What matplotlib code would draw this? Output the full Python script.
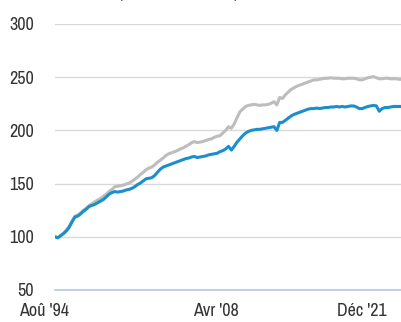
import matplotlib
matplotlib.use('Agg')
import matplotlib.pyplot as plt
from matplotlib import font_manager

# quarterly growth of 100, from Aug '94
fund = [100, 99.0, 101, 103, 105.5, 109, 114, 118.5, 119.5, 121.5,
        124, 126, 128.5, 129.5, 130.5, 132, 133.5, 135, 137.5, 140,
        141.5, 142.5, 142, 142.5, 143, 144, 144.5, 145.5, 147, 149,
        150.5, 152.5, 154.5, 155, 155.5, 157.5, 160.5, 163.5, 165.5, 166.5,
        167.5, 168.5, 169.5, 170.5, 171.5, 172.5, 173.5, 174, 175, 175.5,
        174.5, 175, 175.5, 176, 177, 177.5, 178, 178.5, 180, 181,
        182.5, 185, 181.5, 185, 189, 192, 195, 197.5, 199, 200,
        200.5, 201, 201, 201.5, 202, 202.5, 203, 203.5, 200, 207.5,
        207.5, 209.5, 211.5, 213.5, 215, 216, 217, 218, 219, 220,
        220.5, 220.5, 221, 220.5, 221, 221.5, 221.5, 222, 222, 222.5,
        222, 222.5, 222, 222.5, 223, 223, 222, 220.5, 220.5, 221.5,
        222.5, 223, 223.5, 223, 218, 220.5, 221.5, 221.5, 222, 222.5,
        222.5, 222.5, 222.5]
benchmark = [100, 99.5, 101.5, 103.5, 106.5, 110, 115, 119.5, 120.5, 122.5,
             125, 127, 129.5, 131, 133, 134.5, 136, 138, 140, 142.5,
             144.5, 147, 147.5, 148, 148.5, 149.5, 150.5, 152, 154, 156,
             158.5, 160.5, 163, 164.5, 165.5, 167.5, 170, 172, 174, 176.5,
             178, 179, 180, 181, 182.5, 183.5, 185, 186.5, 188.5, 189.5,
             188.5, 189, 189.5, 190.5, 191.5, 192, 193.5, 194.5, 195, 197.5,
             200, 203.5, 202, 206, 212, 217.5, 220, 222.5, 223.5, 224,
             224.5, 224, 223.5, 224, 224, 224.5, 225.5, 227, 224, 231,
             230, 233.5, 236, 238.5, 240, 241.5, 242.5, 243.5, 244.5, 245.5,
             246.5, 247.5, 247.5, 248, 248.5, 249, 249, 249.5, 249, 249,
             249, 248.5, 248.5, 249, 249, 249, 248.5, 247.5, 247.5, 248.5,
             249.5, 250, 250.5, 249.5, 248.5, 248.5, 249, 249, 248.5, 248.5,
             248.5, 248, 248]
tick_pos = [-3.9, 56.6, 107.9]
tick_labels = ["Aoû '94", "Avr '08", "Déc '21"]
y_ticks = [50, 100, 150, 200, 250, 300]

# narrowest sans available
font, stretch, size = 'Liberation Sans', 'normal', 10.5
for f in font_manager.fontManager.ttflist:
    if 'Narrow' in f.name or 'Condensed' in f.name:
        font, stretch, size = f.name, 'normal', 13
        break
else:
    for f in font_manager.fontManager.ttflist:
        if f.name == 'DejaVu Sans' and f.stretch == 'condensed' and f.weight == 'normal':
            font, stretch, size = 'DejaVu Sans', 'condensed', 11
            break
plt.rcParams['font.family'] = [font, 'DejaVu Sans']
plt.rcParams['font.stretch'] = stretch

fig = plt.figure(figsize=(4.02, 3.22), dpi=100)
ax = fig.add_axes([55 / 402, 32 / 322, 347 / 402, 266 / 322])

q = list(range(len(fund)))
ax.plot(q, benchmark, color='#bdbdbd', lw=2.2, zorder=3)
ax.plot(q, fund, color='#1a8fcd', lw=2.2, zorder=4)

ax.set_xlim(0, 122)
ax.set_ylim(50, 300)
ax.set_yticks(y_ticks)
ax.set_yticklabels([str(v) for v in y_ticks], fontsize=size, color='#333333')
ax.tick_params(axis='y', length=0, pad=15)
ax.set_xticks([])
for s in ax.spines.values():
    s.set_visible(False)
for v in y_ticks[1:]:
    ax.axhline(v, color='#d9d9d9', lw=1.0, zorder=1)
ax.axhline(50, color='#b4c8e1', lw=1.2, zorder=2, clip_on=False)

for p, lab in zip(tick_pos, tick_labels):
    ax.text(p, -0.05, lab, transform=ax.get_xaxis_transform(), ha='center', va='top',
            fontsize=size, color='#333333', clip_on=False)

fig.text(0.0, 1 - 1 / 322, 'Croissance de 100 (base 100, en EUR)', fontsize=12,
         fontweight='bold', color='#222222', va='bottom', ha='left')

fig.savefig('out.png', dpi=100)
